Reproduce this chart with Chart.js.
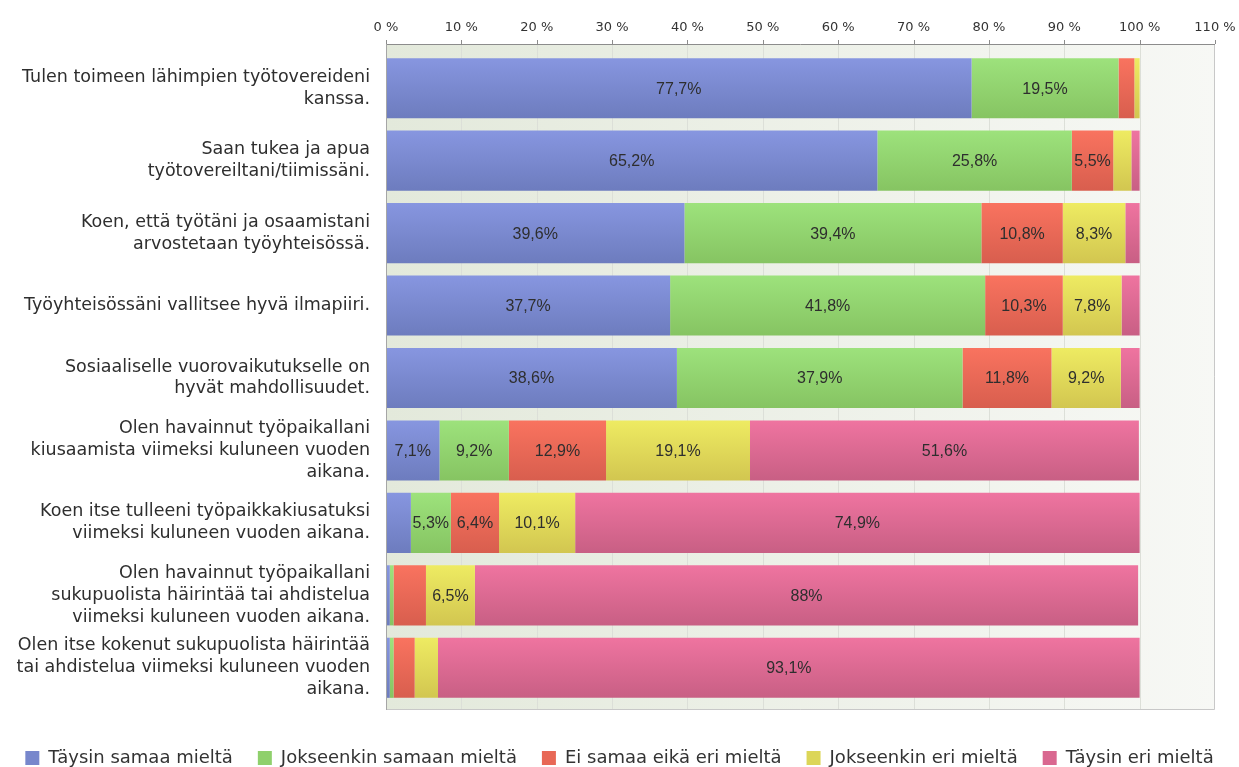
<!DOCTYPE html>
<html>
<head>
<meta charset="utf-8">
<script src="https://cdn.jsdelivr.net/npm/chart.js@4"></script>
<style>
  html, body { margin: 0; padding: 0; background: #fff; }
  #wrap { width: 1239px; height: 767px; position: relative; }
</style>
</head>
<body>
<div id="wrap"><canvas id="chart"></canvas></div>
<script>
// Categories (statements) and answer shares, %
const categories = [
    ['Tulen toimeen lähimpien työtovereideni', 'kanssa.'],
    ['Saan tukea ja apua', 'työtovereiltani/tiimissäni.'],
    ['Koen, että työtäni ja osaamistani', 'arvostetaan työyhteisössä.'],
    'Työyhteisössäni vallitsee hyvä ilmapiiri.',
    ['Sosiaaliselle vuorovaikutukselle on', 'hyvät mahdollisuudet.'],
    ['Olen havainnut työpaikallani', 'kiusaamista viimeksi kuluneen vuoden', 'aikana.'],
    ['Koen itse tulleeni työpaikkakiusatuksi', 'viimeksi kuluneen vuoden aikana.'],
    ['Olen havainnut työpaikallani', 'sukupuolista häirintää tai ahdistelua', 'viimeksi kuluneen vuoden aikana.'],
    ['Olen itse kokenut sukupuolista häirintää', 'tai ahdistelua viimeksi kuluneen vuoden', 'aikana.']
];

const seriesNames = ['Täysin samaa mieltä', 'Jokseenkin samaan mieltä', 'Ei samaa eikä eri mieltä', 'Jokseenkin eri mieltä', 'Täysin eri mieltä'];

const taysinSamaa     = [77.7, 65.2, 39.6, 37.7, 38.6,  7.1,  3.3,  0.5,  0.5];
const jokseenkinSamaa = [19.5, 25.8, 39.4, 41.8, 37.9,  9.2,  5.3,  0.5,  0.5];
const eiSamaaEiEri    = [ 2.1,  5.5, 10.8, 10.3, 11.8, 12.9,  6.4,  4.3,  2.8];
const jokseenkinEri   = [ 0.7,  2.4,  8.3,  7.8,  9.2, 19.1, 10.1,  6.5,  3.1];
const taysinEri       = [ 0.0,  1.1,  1.9,  2.4,  2.5, 51.6, 74.9, 88.0, 93.1];

const xTicks = [0, 10, 20, 30, 40, 50, 60, 70, 80, 90, 100, 110];

// top / bottom colours of each series gradient
const palette = [
    ['#8796e0', '#6d7cbe'],
    ['#9de27c', '#86c462'],
    ['#f9735f', '#d85e4e'],
    ['#eeeb62', '#d2c650'],
    ['#ef74a0', '#c85f84']
];
const legendColors = ['#7787cc', '#8fd06c', '#e86856', '#dcd658', '#d96890'];

const BAR_PCT = 0.83;
const PAD_TOP = 8, PAD_BOTTOM = 6;   // frame reaches a bit beyond the category band

function barFill(i) {
    return function (ctx) {
        const chart = ctx.chart;
        const y = chart.scales.y;
        if (!chart.chartArea || !y || ctx.dataIndex === undefined) return palette[i][0];
        const c = y.getPixelForValue(ctx.dataIndex);
        const h = (chart.chartArea.height / categories.length) * BAR_PCT / 2;
        const g = chart.ctx.createLinearGradient(0, c - h, 0, c + h);
        g.addColorStop(0, palette[i][0]);
        g.addColorStop(1, palette[i][1]);
        return g;
    };
}

const allSeries = [taysinSamaa, jokseenkinSamaa, eiSamaaEiEri, jokseenkinEri, taysinEri];

// plot background, grid, frame and top tick marks
const plotFrame = {
    id: 'plotFrame',
    beforeDatasetsDraw(chart) {
        const a = chart.chartArea;
        const ctx = chart.ctx;
        const x = chart.scales.x;
        const top = a.top - PAD_TOP, bottom = a.bottom + PAD_BOTTOM;
        const g = ctx.createLinearGradient(a.left, 0, a.right, 0);
        g.addColorStop(0, '#e3e9db');
        g.addColorStop(1, '#f7f8f5');
        ctx.save();
        ctx.fillStyle = g;
        ctx.fillRect(a.left, top, a.right - a.left, bottom - top);
        ctx.strokeStyle = '#dcdfd8';
        ctx.lineWidth = 1;
        ctx.beginPath();
        xTicks.slice(1, -1).forEach(v => {
            const px = Math.round(x.getPixelForValue(v)) + 0.5;
            ctx.moveTo(px, top);
            ctx.lineTo(px, bottom);
        });
        ctx.stroke();
        ctx.restore();
    },
    afterDraw(chart) {
        const a = chart.chartArea;
        const ctx = chart.ctx;
        const x = chart.scales.x;
        const top = a.top - PAD_TOP, bottom = a.bottom + PAD_BOTTOM;
        ctx.save();
        ctx.lineWidth = 1;
        ctx.strokeStyle = '#c8c8c8';
        ctx.beginPath();
        ctx.moveTo(a.right - 0.5, top);
        ctx.lineTo(a.right - 0.5, bottom - 0.5);
        ctx.lineTo(a.left, bottom - 0.5);
        ctx.stroke();
        ctx.strokeStyle = '#8c8c8c';
        ctx.beginPath();
        ctx.moveTo(a.left, top + 0.5);
        ctx.lineTo(a.right, top + 0.5);
        xTicks.forEach(v => {
            const px = Math.round(x.getPixelForValue(v)) + 0.5;
            ctx.moveTo(px, top - 4);
            ctx.lineTo(px, top);
        });
        ctx.stroke();
        ctx.strokeStyle = '#a6a6a6';
        ctx.beginPath();
        ctx.moveTo(a.left + 0.5, top);
        ctx.lineTo(a.left + 0.5, bottom);
        ctx.stroke();
        ctx.restore();
    }
};

// value labels inside segments
const segmentLabels = {
    id: 'segmentLabels',
    afterDatasetsDraw(chart) {
        const ctx = chart.ctx;
        ctx.save();
        ctx.font = '16px "Liberation Sans", Arial, sans-serif';
        ctx.fillStyle = '#2e2e2e';
        ctx.textAlign = 'center';
        ctx.textBaseline = 'middle';
        chart.data.datasets.forEach((ds, di) => {
            const meta = chart.getDatasetMeta(di);
            meta.data.forEach((bar, i) => {
                const v = ds.data[i];
                if (v < 5) return;
                const txt = String(v).replace('.', ',') + '%';
                const mid = (bar.x + bar.base) / 2;
                ctx.fillText(txt, mid, bar.y + 1);
            });
        });
        ctx.restore();
    }
};

new Chart(document.getElementById('chart'), {
    type: 'bar',
    data: {
        labels: categories,
        datasets: allSeries.map((d, i) => ({
            label: seriesNames[i],
            data: d,
            backgroundColor: barFill(i),
            borderWidth: 0,
            barPercentage: BAR_PCT,
            categoryPercentage: 1
        }))
    },
    options: {
        indexAxis: 'y',
        responsive: true,
        maintainAspectRatio: false,
        animation: false,
        layout: { padding: { top: 0, right: 0, bottom: -10, left: 0 } },
        scales: {
            x: {
                position: 'top',
                stacked: true,
                min: 0,
                max: 110,
                afterBuildTicks(scale) {
                    scale.ticks = xTicks.map(v => ({ value: v }));
                },
                afterFit(scale) {
                    scale.height = 52;
                    scale.paddingRight = 24;
                },
                ticks: {
                    callback: v => v + ' %',
                    color: '#333',
                    font: { family: '"DejaVu Sans", sans-serif', size: 13 },
                    padding: 17,
                    maxRotation: 0
                },
                grid: { display: false, drawTicks: false },
                border: { display: false }
            },
            y: {
                stacked: true,
                afterFit(scale) { scale.width = 386; },
                ticks: {
                    color: '#2e2e2e',
                    font: { family: '"DejaVu Sans", sans-serif', size: 17.5, lineHeight: 1.25 },
                    padding: 8,
                    crossAlign: 'near'
                },
                grid: { display: false },
                border: { display: false }
            }
        },
        plugins: {
            legend: {
                position: 'bottom',
                title: {
                    display: true,
                    text: ' ',
                    font: { size: 10, lineHeight: 1 },
                    padding: { top: 0, bottom: 10 }
                },
                labels: {
                    boxWidth: 14,
                    boxHeight: 14,
                    padding: 25,
                    color: '#333',
                    font: { family: '"DejaVu Sans", sans-serif', size: 18 },
                    generateLabels(chart) {
                        return seriesNames.map((n, i) => ({
                            text: n,
                            fillStyle: legendColors[i],
                            strokeStyle: legendColors[i],
                            fontColor: '#333',
                            lineWidth: 0,
                            datasetIndex: i
                        }));
                    }
                }
            },
            tooltip: { enabled: false }
        }
    },
    plugins: [plotFrame, segmentLabels]
});
</script>
</body>
</html>
